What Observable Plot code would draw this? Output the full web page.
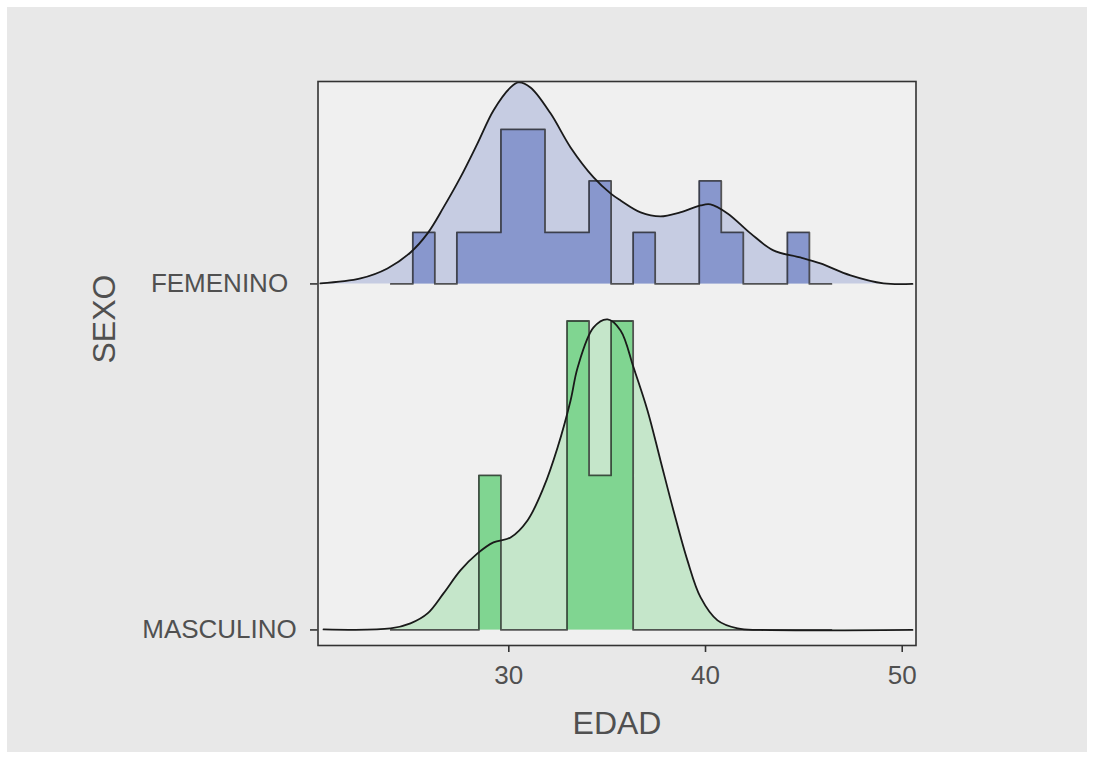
<!DOCTYPE html>
<html>
<head>
<meta charset="utf-8">
<script src="https://cdn.jsdelivr.net/npm/d3@7"></script>
<script src="https://cdn.jsdelivr.net/npm/@observablehq/plot@0.6"></script>
<style>
  html, body { margin: 0; padding: 0; background: #ffffff; width: 1094px; height: 759px; overflow: hidden; }
  #bg { position: absolute; left: 7px; top: 7px; width: 1080px; height: 745px; background: #e8e8e8; }
  #chart { position: absolute; left: 0; top: 0; }
</style>
</head>
<body>
<div id="bg"></div>
<div id="chart"></div>
<script>
// ---- Data ----
const sexoCategories = ["MASCULINO", "FEMENINO"];
const sexoPositions = [1, 2];

const xTicks = [30, 40, 50];

// histogram bin edges (EDAD), 20 bins
const binEdges = [24.00, 25.12, 26.24, 27.36, 28.48, 29.60, 30.72, 31.84, 32.96, 34.08,
                  35.20, 36.32, 37.44, 38.56, 39.68, 40.80, 41.92, 43.04, 44.16, 45.28, 46.40];
const femCounts  = [0, 1, 0, 1, 1, 3, 3, 1, 1, 2, 0, 1, 0, 0, 2, 1, 0, 0, 1, 0];
const mascCounts = [0, 0, 0, 0, 1, 0, 0, 0, 2, 1, 2, 0, 0, 0, 0, 0, 0, 0, 0, 0];

// density curves (EDAD, density)
const femDensAge = [20.42, 22.46, 23.83, 25.00, 25.87, 26.68, 27.54, 28.41, 29.22, 30.09, 30.49, 31.10,
                    32.12, 33.14, 34.31, 35.17, 35.68, 36.70, 37.71, 38.71, 39.75, 40.25, 41.12, 42.29,
                    43.45, 44.82, 45.84, 47.37, 49.05, 50.52];
const femDens    = [0.0005, 0.0053, 0.0149, 0.0303, 0.0487, 0.0737, 0.1026, 0.1354, 0.1671, 0.1893, 0.1941, 0.1893,
                    0.1643, 0.1315, 0.1026, 0.0872, 0.0804, 0.0689, 0.0650, 0.0689, 0.0756, 0.0766, 0.0679, 0.0487,
                    0.0323, 0.0255, 0.0197, 0.0082, 0.0005, 0.0000];
const mascDensAge = [20.58, 23.99, 25.00, 25.87, 26.68, 27.54, 28.41, 29.22, 30.09, 30.95, 31.77, 32.48,
                     33.14, 33.50, 34.31, 35.02, 35.68, 36.34, 37.05, 37.71, 38.37, 39.08, 39.75, 40.61,
                     41.63, 42.80, 50.52];
const mascDens    = [0.0005, 0.0014, 0.0063, 0.0159, 0.0352, 0.0573, 0.0737, 0.0843, 0.0891, 0.1055, 0.1373, 0.1758,
                     0.2211, 0.2529, 0.2914, 0.2991, 0.2885, 0.2529, 0.2115, 0.1633, 0.1151, 0.0670, 0.0313, 0.0092,
                     0.0014, 0.0000, 0.0000];

// ---- Build tables ----
const ridgeScale = 3.0; // y units per density unit
const base = {FEMENINO: 2, MASCULINO: 1};

function densityTable(sexo, ages, dens) {
  return ages.map((a, i) => ({sexo, edad: a, dens: dens[i]}));
}
function histTable(sexo, counts) {
  const n = d3.sum(counts);
  const w = binEdges[1] - binEdges[0];
  return binEdges.map((e, i) => ({sexo, edad: e, dens: counts[Math.min(i, counts.length - 1)] / (n * w)}));
}

const femD = densityTable("FEMENINO", femDensAge, femDens);
const mascD = densityTable("MASCULINO", mascDensAge, mascDens);
const femH = histTable("FEMENINO", femCounts);
const mascH = histTable("MASCULINO", mascCounts);

const yTop = d => base[d.sexo] + d.dens * ridgeScale;
const yBase = d => base[d.sexo];

const colors = {
  FEMENINO: {dens: "#c6cce2", hist: "#8897cd"},
  MASCULINO: {dens: "#c5e6ca", hist: "#80d591"}
};

function ridgeMarks(dens, hist, sexo) {
  return [
    Plot.areaY(dens, {x: "edad", y1: yBase, y2: yTop, fill: colors[sexo].dens, curve: "catmull-rom"}),
    Plot.areaY(hist, {x: "edad", y1: yBase, y2: yTop, fill: colors[sexo].hist, curve: "step-after"}),
    Plot.line(hist, {x: "edad", y: yTop, stroke: "#222", strokeOpacity: 0.75, strokeWidth: 1.8, curve: "step-after"}),
    Plot.line(dens, {x: "edad", y: yTop, stroke: "#1a1a1a", strokeWidth: 1.8, curve: "catmull-rom"})
  ];
}

const chart = Plot.plot({
  width: 1094,
  height: 759,
  marginLeft: 317.5,
  marginRight: 178.5,
  marginTop: 81,
  marginBottom: 114,
  style: {background: "transparent", fontFamily: "'Liberation Sans', Arial, sans-serif"},
  x: {domain: [20.30, 50.70]},
  y: {domain: [0.955, 2.585]},
  marks: [
    Plot.frame({fill: "#f0f0f0", stroke: null}),
    ...ridgeMarks(femD, femH, "FEMENINO"),
    ...ridgeMarks(mascD, mascH, "MASCULINO"),
    Plot.frame({stroke: "#333", strokeWidth: 1.6}),
    Plot.axisX({ticks: xTicks, tickSize: 7, tickPadding: 13, fontSize: 26, label: null,
                stroke: "#333", strokeWidth: 1.6, fill: "#505050"}),
    Plot.axisY({ticks: sexoPositions, tickFormat: d => sexoCategories[sexoPositions.indexOf(d)],
                tickSize: 7.5, tickPadding: 91, textAnchor: "middle", fontSize: 26, label: null,
                stroke: "#333", strokeWidth: 1.6, fill: "#505050"}),
    Plot.text(["SEXO"], {frameAnchor: "left", dx: -213, rotate: -90, fontSize: 32, fill: "#505050"}),
    Plot.text(["EDAD"], {frameAnchor: "bottom", dy: 88, fontSize: 32, fill: "#505050"})
  ]
});
document.getElementById("chart").appendChild(chart);
</script>
</body>
</html>
